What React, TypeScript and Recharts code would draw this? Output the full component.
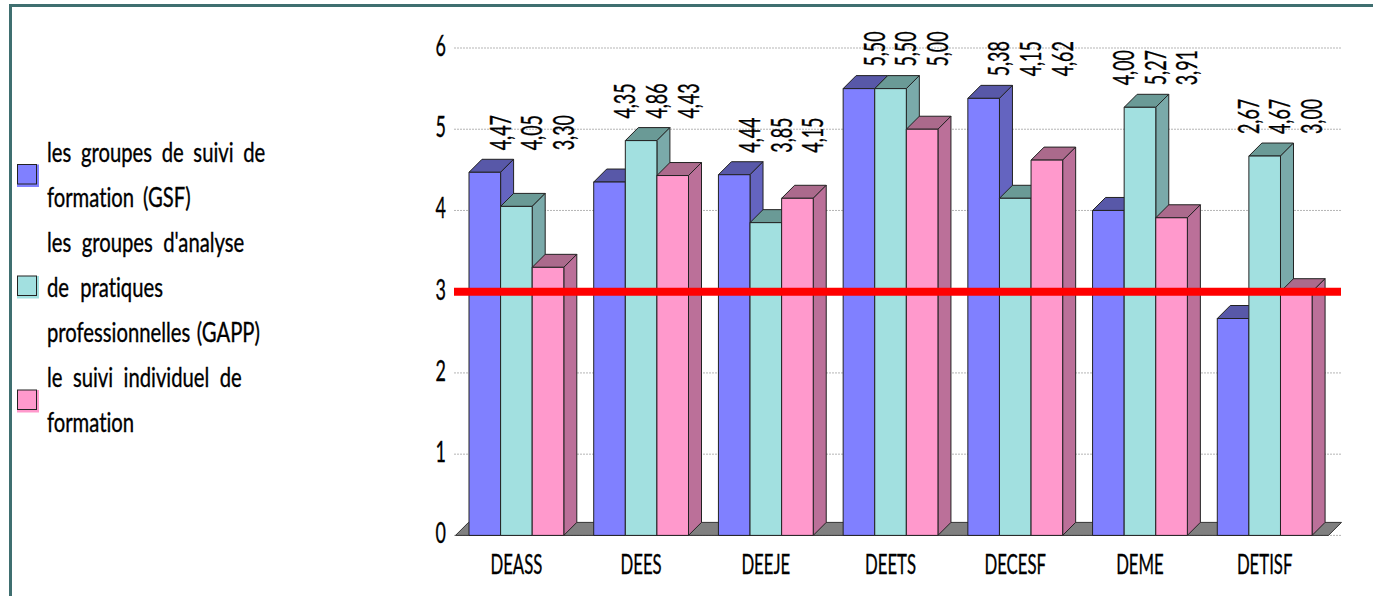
import { BarChart, Bar, XAxis, YAxis, CartesianGrid, LabelList, ReferenceArea, ReferenceLine } from 'recharts';

const categories = ['DEASS', 'DEES', 'DEEJE', 'DEETS', 'DECESF', 'DEME', 'DETISF'];
const gsfValues = [4.47, 4.35, 4.44, 5.5, 5.38, 4.0, 2.67];
const gappValues = [4.05, 4.86, 3.85, 5.5, 4.15, 5.27, 4.67];
const suiviValues = [3.3, 4.43, 4.15, 5.0, 4.62, 3.91, 3.0];
const yTicks = [0, 1, 2, 3, 4, 5, 6];
const threshold = 3;

const chartData = categories.map((name, i) => ({
  name,
  gsf: gsfValues[i],
  gapp: gappValues[i],
  suivi: suiviValues[i],
}));

const DEPTH = 13;
const FONT = 'Lato, sans-serif';
const SQUEEZE = 0.64;
const INK = { fill: '#000', stroke: '#000', strokeWidth: 0.35 };

const palette = {
  gsf: { front: '#8080ff', top: '#5858a8', side: '#6464c0' },
  gapp: { front: '#a2e0e0', top: '#6a9a96', side: '#7aaaaa' },
  suivi: { front: '#ff99cc', top: '#ab6a8c', side: '#bb7099' },
};

const legendEntries = [
  { colors: palette.gsf, boxY: 164.5, lines: [{ text: 'les groupes de suivi de', y: 162, gap: 6 }, { text: 'formation (GSF)', y: 207, gap: 5 }] },
  {
    colors: palette.gapp,
    boxY: 276,
    lines: [
      { text: "les groupes d'analyse", y: 252, gap: 7 },
      { text: 'de pratiques', y: 297, gap: 8 },
      { text: 'professionnelles (GAPP)', y: 342, gap: 2 },
    ],
  },
  { colors: palette.suivi, boxY: 390, lines: [{ text: 'le suivi individuel de', y: 387, gap: 7 }, { text: 'formation', y: 432, gap: 0 }] },
];

const box3d = (colors: typeof palette.gsf) => (props: any) => {
  const { x, y, width, height } = props;
  const d = DEPTH;
  return (
    <g stroke="#222" strokeWidth={1} strokeLinejoin="round">
      <path d={`M${x},${y} l${d},${-d} h${width} l${-d},${d} z`} fill={colors.top} />
      <path d={`M${x + width},${y} l${d},${-d} v${height} l${-d},${d} z`} fill={colors.side} />
      <rect x={x} y={y} width={width} height={height} fill={colors.front} />
    </g>
  );
};

// the three labels of a group all start above its tallest bar
const groupLabel = (props: any) => {
  const { x, y, width, height, value, index } = props;
  const groupMax = Math.max(gsfValues[index], gappValues[index], suiviValues[index]);
  const top = y + height - (height / value) * groupMax;
  const px = x + width + 10;
  const py = top - DEPTH - 9;
  return (
    <text
      transform={`translate(${px},${py}) rotate(-90) scale(${SQUEEZE},1)`}
      fontFamily={FONT}
      fontSize={28}
      {...INK}
    >
      {value.toFixed(2).replace('.', ',')}
    </text>
  );
};

// ground strip; the area's width stops at the last band, the strip runs on under the grid end
const floorShape = (props: any) => {
  const { x, y, width } = props;
  const right = x + width + 1.5;
  return (
    <path
      d={`M${x + 1.5},${y} L${x + 1.5 + DEPTH},${y - DEPTH} L${right + DEPTH},${y - DEPTH} L${right},${y} Z`}
      fill="#808080"
      stroke="#333"
      strokeWidth={1}
    />
  );
};

const CategoryTick = ({ x, y, payload }: any) => (
  <text
    transform={`translate(${x},${y + 31}) scale(${SQUEEZE - 0.02},1)`}
    textAnchor="middle"
    fontFamily={FONT}
    fontSize={27}
    {...INK}
  >
    {payload.value}
  </text>
);

const ValueTick = ({ x, y, payload }: any) => (
  <text
    transform={`translate(${x},${y + 8}) scale(${SQUEEZE},1)`}
    textAnchor="end"
    fontFamily={FONT}
    fontSize={28}
    {...INK}
  >
    {payload.value}
  </text>
);

const SideLegend = () => (
  <svg width={290} height={596} style={{ position: 'absolute', left: 0, top: 0 }}>
    {legendEntries.map((entry) => (
      <g key={entry.boxY}>
        <rect x={17} y={entry.boxY} width={22} height={22.5} fill={entry.colors.front} />
        <rect x={17.5} y={entry.boxY} width={19} height={19.5} fill={entry.colors.front} stroke="#222" strokeWidth={1} />
        {entry.lines.map((line) => (
          <text
            key={line.text}
            transform={`translate(47,${line.y}) scale(0.75,1)`}
            fontFamily={FONT}
            fontSize={27}
            wordSpacing={line.gap}
            style={{ fontVariantLigatures: 'none' }}
            {...INK}
          >
            {line.text}
          </text>
        ))}
      </g>
    ))}
  </svg>
);

export default function App() {
  return (
    <div style={{ position: 'fixed', left: 0, top: 0, width: 1373, height: 596, background: '#fff', overflow: 'hidden' }}>
      <div
        style={{
          position: 'absolute',
          left: 9,
          top: 4,
          right: 0,
          bottom: 0,
          borderTop: '3px solid #3f6f70',
          borderLeft: '3px solid #3f6f70',
        }}
      />
      <SideLegend />
      <BarChart
        width={1373}
        height={596}
        data={chartData}
        barGap={0}
        barSize={31.6}
        margin={{ top: 48, right: 32, bottom: 20.6, left: 404 }}
        style={{ position: 'absolute', left: 0, top: 0 }}
      >
        <CartesianGrid vertical={false} stroke="#b5b5b5" strokeDasharray="2 1" />
        <XAxis
          dataKey="name"
          height={40}
          axisLine={false}
          tickLine={false}
          padding={{ left: 0, right: 14 }}
          tick={<CategoryTick />}
          interval={0}
        />
        <YAxis
          width={50}
          domain={[0, 6]}
          ticks={yTicks}
          axisLine={false}
          tickLine={false}
          tick={<ValueTick />}
          interval={0}
        />
        <ReferenceArea y1={0} y2={0} shape={floorShape} />
        <Bar dataKey="gsf" isAnimationActive={false} shape={box3d(palette.gsf)}>
          <LabelList dataKey="gsf" content={groupLabel} />
        </Bar>
        <Bar dataKey="gapp" isAnimationActive={false} shape={box3d(palette.gapp)}>
          <LabelList dataKey="gapp" content={groupLabel} />
        </Bar>
        <Bar dataKey="suivi" isAnimationActive={false} shape={box3d(palette.suivi)}>
          <LabelList dataKey="suivi" content={groupLabel} />
        </Bar>
        <ReferenceLine y={threshold} stroke="#ff0000" strokeWidth={8} />
      </BarChart>
    </div>
  );
}
